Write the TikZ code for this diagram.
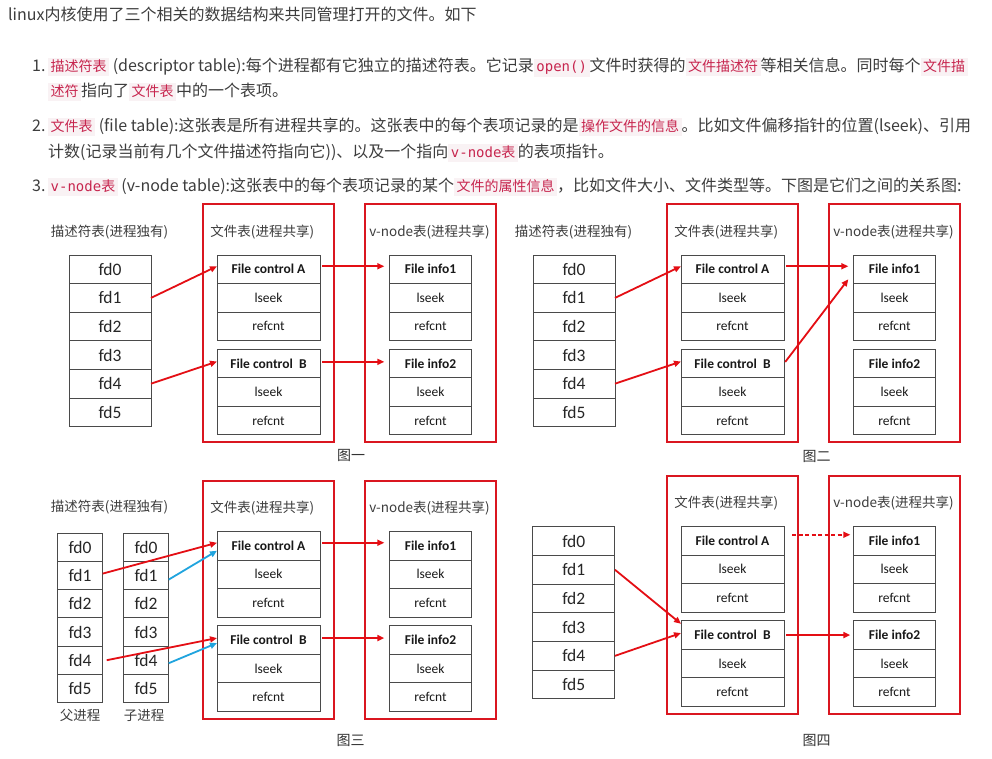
\documentclass[tikz,border=0pt]{standalone}
\usepackage{fontspec}
\setmainfont{Noto Sans CJK SC}
\newfontfamily\boxfont{Carlito}
\newfontfamily\codefont{DejaVu Sans Mono}
\usetikzlibrary{positioning,arrows.meta}
\definecolor{txtgray}{HTML}{3D3D3D}
\definecolor{codebg}{HTML}{F9F2F4}
\definecolor{codefg}{HTML}{C7254E}
\definecolor{boxred}{RGB}{218,22,32}
\definecolor{linkred}{RGB}{228,14,20}
\definecolor{linkblue}{RGB}{32,164,222}
\definecolor{cellgray}{HTML}{4A4A4A}
\tikzset{>={Triangle[length=7pt,width=6pt]}}
\def\mycode#1{{\fboxsep=2.5pt\colorbox{codebg}{\fontsize{14}{14}\selectfont\textcolor{codefg}{#1}}}}

\tikzset{
  para/.style={anchor=base west, inner sep=0pt, text=txtgray, font=\fontsize{16}{16}\selectfont},
  tlabel/.style={inner sep=0pt, text=txtgray, font=\fontsize{13.5}{13.5}\selectfont},
  caption/.style={inner sep=0pt, text=black!80, font=\fontsize{14}{14}\selectfont},
  fdcell/.style={draw=cellgray, line width=1pt, outer sep=0pt, inner sep=0pt, minimum height=#1pt, text=black!85, font=\boxfont\fontsize{17.5}{17.5}\selectfont},
  rechead/.style={draw=cellgray, line width=1pt, outer sep=0pt, inner sep=0pt, minimum height=28.5pt, text=black!90, font=\boxfont\bfseries\fontsize{13.5}{13.5}\selectfont},
  reccell/.style={rechead, font=\boxfont\fontsize{13.5}{13.5}\selectfont},
  tablebox/.style={draw=boxred, line width=2pt, inner sep=0pt, minimum width=131pt, minimum height=238.3pt},
  link/.style={draw=linkred, line width=1.8pt, ->},
  bluelink/.style={link, draw=linkblue},
}

% one descriptor table: name, x, top, width, row height
\def\fdtable#1#2#3#4#5{%
  \foreach \i in {0,...,5}
    \node[fdcell=#5, minimum width=#4pt] (#1\i) at (#2,#3+#5/2+#5*\i) {fd\i};}
% one record of three rows: name, x, top, width, title
\def\record#1#2#3#4#5{%
  \node[rechead, minimum width=#4pt] (#1) at (#2,#3+14.25) {#5};
  \node[reccell, minimum width=#4pt, below=0pt of #1] (#1s) {lseek};
  \node[reccell, minimum width=#4pt, below=0pt of #1s] (#1r) {refcnt};}
% file table and v-node table of one figure
\def\sharedtables#1{%
  \node[tablebox] (ft#1) at (268.35,323.15) {};
  \node[tablebox] (vt#1) at (430.35,323.15) {};
  \node[tlabel] (fl#1) at (262.3,232) {文件表(进程共享)};
  \node[tlabel] (vl#1) at (429.5,232) {v-node表(进程共享)};
  \record{ca#1}{268.5}{255}{103}{File control A}
  \record{cb#1}{268.5}{349.3}{103}{File control\ \ B}
  \record{ia#1}{430.5}{255}{82.4}{File info1}
  \record{ib#1}{430.5}{349.3}{82.4}{File info2}}

\begin{document}
\begin{tikzpicture}[x=1pt, y=-1pt]
  \useasboundingbox[fill=white] (0,0) rectangle (992,759);

  \node[para] (intro) at (8,21) {linux内核使用了三个相关的数据结构来共同管理打开的文件。如下};
  \node[para] (num1) at (32,72) {1.};
  \node[para] (item1a) at (48,72) {\mycode{描述符表} (descriptor table):每个进程都有它独立的描述符表。它记录\mycode{\codefont open()}文件时获得的\mycode{文件描述符}等相关信息。同时每个\mycode{文件描}};
  \node[para] (item1b) at (48,97) {\mycode{述符}指向了\mycode{文件表}中的一个表项。};
  \node[para] (num2) at (32,132) {2.};
  \node[para] (item2a) at (48,132) {\mycode{文件表} (file table):这张表是所有进程共享的。这张表中的每个表项记录的是\mycode{操作文件的信息}。比如文件偏移指针的位置(lseek)、引用};
  \node[para] (item2b) at (48,158) {计数(记录当前有几个文件描述符指向它))、以及一个指向\mycode{{\codefont v-node}表}的表项指针。};
  \node[para] (num3) at (32,192) {3.};
  \node[para] (item3a) at (48,192) {\mycode{{\codefont v-node}表} (v-node table):这张表中的每个表项记录的某个\mycode{文件的属性信息}，比如文件大小、文件类型等。下图是它们之间的关系图:};

  % figure 1
  \node[tlabel] (dl1) at (109.5,232) {描述符表(进程独有)};
  \fdtable{t1}{110}{255}{82}{28.6}
  \sharedtables{1}
  \node[caption] (cap1) at (351,455) {图一};
  \draw[link, shorten <=2pt, shorten >=5pt] ([yshift=1.7pt]cb1.east) -- ([yshift=1.7pt]ib1.west);
  \draw[link] (t11.east) -- ([yshift=3pt]ca1.west);
  \draw[link] (t14.east) -- ([yshift=2pt]cb1.west);
  \draw[link, shorten <=2pt, shorten >=5pt] ([yshift=3pt]ca1.east) -- ([yshift=3pt]ia1.west);

  % figure 2
  \begin{scope}[shift={(464,0)}]
    \node[tlabel] (dl2) at (109.5,232) {描述符表(进程独有)};
    \fdtable{t2}{110}{255}{82}{28.6}
    \sharedtables{2}
    \node[caption] (cap2) at (352.7,456.7) {图二};
  \end{scope}
  \draw[link] (t21.east) -- ([yshift=3pt]ca2.west);
  \draw[link] (t24.east) -- ([yshift=2pt]cb2.west);
  \draw[link, shorten <=2pt, shorten >=5pt] ([yshift=3pt]ca2.east) -- ([yshift=3pt]ia2.west);
  \draw[link, shorten <=2pt] (cb2.east) -- ([xshift=-5pt,yshift=-10pt]ia2.west);

  % figure 3
  \begin{scope}[shift={(0,276.5)}]
    \node[tlabel] (dl3) at (109.5,230.2) {描述符表(进程独有)};
    \fdtable{tp}{80}{256.8}{45.4}{28.2}
    \fdtable{tc}{146}{256.8}{45.4}{28.2}
    \node[tlabel] (par3) at (80,439.2) {父进程};
    \node[tlabel] (chi3) at (144,439.2) {子进程};
    \sharedtables{3}
    \node[caption] (cap3) at (350.7,464.2) {图三};
  \end{scope}
  \draw[link] ([yshift=2pt]tp1.east) -- ([yshift=3pt]ca3.west);
  \draw[link] ([xshift=4pt]tp4.east) -- ([yshift=2pt]cb3.west);
  \draw[bluelink] ([yshift=-4pt]tc1.east) -- ([yshift=-5pt]ca3.west);
  \draw[bluelink] ([yshift=-3pt]tc4.east) -- ([yshift=-3pt]cb3.west);
  \draw[link, shorten <=2pt, shorten >=5pt] ([yshift=3pt]ca3.east) -- ([yshift=3pt]ia3.west);
  \draw[link, shorten <=2pt, shorten >=5pt] ([yshift=2pt]cb3.east) -- ([yshift=2pt]ib3.west);

  % figure 4
  \begin{scope}[shift={(464,271.5)}]
    \fdtable{t4}{109.8}{255.2}{82.3}{28.7}
    \sharedtables{4}
    \node[caption] (cap4) at (352.7,469.2) {图四};
  \end{scope}
  \draw[link] (t41.east) -- ([yshift=-3pt]cb4.north west);
  \draw[link] (t44.east) -- ([yshift=2pt]cb4.west);
  \draw[link, dash pattern=on 4pt off 2.5pt, shorten <=8pt, shorten >=3pt] ([yshift=6pt]ca4.east) -- ([yshift=6pt]ia4.west);
  \draw[link, shorten <=2pt, shorten >=3pt] (cb4.east) -- (ib4.west);
\end{tikzpicture}
\end{document}
